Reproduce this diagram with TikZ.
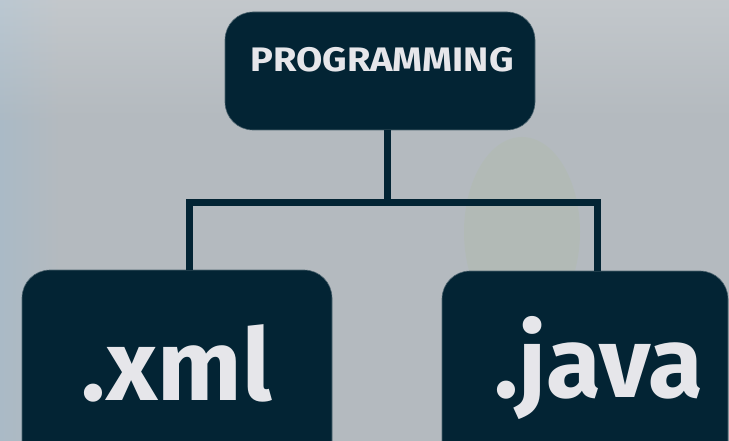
\documentclass[tikz,border=0pt]{standalone}
\usepackage{fontspec}
\setmainfont{Fira Sans}
\newfontfamily\widesans[FakeStretch=1.12]{Fira Sans}
\begin{document}
\begin{tikzpicture}[x=1pt,y=-1pt,
  box/.style={fill=navy, draw=navy!70!white, line width=0.6pt, rounded corners=28pt, inner sep=0pt},
  conn/.style={draw=navy, line width=7pt, line join=miter},
  lbl/.style={text=label, inner sep=0pt, anchor=base}]
\definecolor{navy}{RGB}{3,36,52}
\definecolor{label}{RGB}{230,230,234}
\definecolor{bgmain}{RGB}{180,186,191}
\definecolor{bgleft}{RGB}{170,186,198}
\definecolor{bgblob}{RGB}{176,188,168}
% blurred backdrop
\useasboundingbox (0,0) rectangle (729,441);
\fill[bgmain] (0,0) rectangle (729,441);
\shade[left color=bgleft, right color=bgmain] (0,0) rectangle (60,441);
\fill[bgblob, opacity=0.35] (522,232) ellipse [x radius=58, y radius=95];
\shade[top color=white, bottom color=bgmain, opacity=0.2] (0,0) rectangle (729,120);

% boxes
\node[box, minimum width=310pt, minimum height=118pt] (prog) at (380,71) {};
\node[box, minimum width=310pt, minimum height=240pt] (xmlbox) at (177,390) {};
\node[box, minimum width=286pt, minimum height=240pt] (javabox) at (585,391) {};

% labels
\node[lbl, font=\widesans\fontsize{34}{40}\selectfont\bfseries] (progtxt) at (382,72) {PROGRAMMING};
\node[lbl, font=\fontsize{100}{110}\selectfont\bfseries] (xmltxt) at (177,400) {.xml};
\node[lbl, font=\fontsize{100}{110}\selectfont\bfseries] (javatxt) at (599,397) {.java};

% connectors
\coordinate (bar) at (387,203);
\coordinate (lx) at (189,0);
\coordinate (rx) at (597,0);
\draw[conn] (prog.south -| bar) -- (bar);
\draw[conn] (xmlbox.north -| lx) |- (bar) -| (javabox.north -| rx);
\end{tikzpicture}
\end{document}
